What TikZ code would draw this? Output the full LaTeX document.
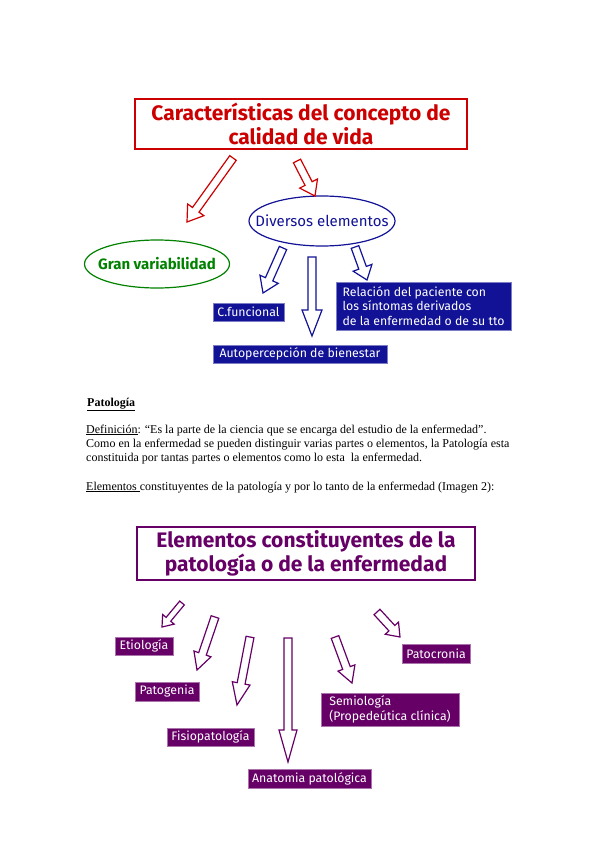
\documentclass[tikz,border=0pt]{standalone}
\usepackage{fontspec}
\setmainfont{Liberation Serif}
\newfontfamily\comicfont{Fira Sans}
\usetikzlibrary{calc,positioning,shapes.geometric}
\definecolor{titlered}{RGB}{204,0,0}
\definecolor{navyblue}{RGB}{18,18,150}
\definecolor{ovalgreen}{RGB}{0,130,0}
\definecolor{plum}{RGB}{102,0,102}
\def\shaftw{4pt}
\def\headw{10pt}
% hollow block arrow: [style] tail, tip, head length
\newcommand{\fatarrow}[4][]{%
  \coordinate (neck) at ($(#3)!#4!(#2)$);
  \draw[line width=1.2pt, #1] ($(#2)!\shaftw!90:(#3)$) -- ($(neck)!\shaftw!90:(#3)$)
    -- ($(neck)!\headw!90:(#3)$) -- (#3) -- ($(neck)!\headw!-90:(#3)$)
    -- ($(neck)!\shaftw!-90:(#3)$) -- ($(#2)!\shaftw!-90:(#3)$) -- cycle;
}
\tikzset{
  titlebox/.style={draw, line width=1.6pt, align=center, inner sep=0pt,
    font=\comicfont\bfseries\fontsize{21}{24}\selectfont},
  oval/.style={ellipse, draw, line width=1.2pt, inner ysep=0pt,
    font=\comicfont\fontsize{15}{17}\selectfont},
  labelbox/.style={fill=#1, draw=#1!55, line width=0.6pt, text=white, align=left,
    inner xsep=3pt, inner ysep=0pt, font=\comicfont\fontsize{12.3}{14.5}\selectfont},
  txt/.style={anchor=base west, inner sep=0pt, font=\fontsize{12}{13.5}\selectfont}
}

\begin{document}
\begin{tikzpicture}[x=1pt,y=-1pt]
    \fill[white] (0,0) rectangle (599,848);
    \useasboundingbox (0,0) rectangle (599,848);

    % calidad de vida
    \node (calidad) [titlebox,draw=titlered,text=titlered,minimum width=332,minimum height=50] at (301,124)
    {Características del concepto de\\calidad de vida};
    \node (diversos) [oval,draw=navyblue,text=navyblue,inner xsep=-17pt,minimum width=146,minimum height=50] at (322,221)
    {Diversos elementos};
    \node (gran) [oval,draw=ovalgreen,text=ovalgreen,font=\comicfont\bfseries\fontsize{15}{17}\selectfont,
      inner xsep=-9pt,minimum width=145,minimum height=48] at (157,264) {Gran variabilidad};
    \node (cfunc) [labelbox=navyblue,minimum width=71,minimum height=18] at (248.5,312) {C.funcional};
    \node (autoperc) [labelbox=navyblue,minimum width=174,minimum height=18] at (300,354)
    {Autopercepción de bienestar};
    \node (relacion) [labelbox=navyblue,minimum width=175,minimum height=48] at (423.5,306)
    {Relación del paciente con\\los síntomas derivados\\de la enfermedad o de su tto};

    \coordinate (r1a) at (233,158); \coordinate (r1b) at (187,222);
    \coordinate (r2a) at (297,161); \coordinate (r2b) at (315,196);
    \fatarrow[titlered]{r1a}{r1b}{15pt}
    \fatarrow[titlered]{r2a}{r2b}{14pt}

    \coordinate (b1a) at (283,248); \coordinate (b1b) at (263,293);
    \coordinate (b2a) at (312,257); \coordinate (b2b) at (312,336);
    \coordinate (b3a) at (355,247); \coordinate (b3b) at (367,280);
    \fatarrow[navyblue]{b1a}{b1b}{15pt}
    \fatarrow[navyblue]{b2a}{b2b}{26pt}
    \fatarrow[navyblue]{b3a}{b3b}{13pt}

    % texto
    \node (pat) [txt,font=\bfseries\fontsize{12}{13.5}\selectfont] at (84,406) {\ \underline{Patología}};
    \node (def) [txt] at (86,433) {\underline{Definición}: “Es la parte de la ciencia que se encarga del estudio de la enfermedad”.};
    \node (como) [txt] at (86,447) {Como en la enfermedad se pueden distinguir varias partes o elementos, la Patología esta};
    \node (const) [txt] at (86,461) {constituida por tantas partes o elementos como lo esta\ \ la enfermedad.};
    \node (elem) [txt] at (86,490) {\underline{Elementos\ }constituyentes de la patología y por lo tanto de la enfermedad (Imagen 2):};

    % elementos de la patologia
    \node (elementos) [titlebox,draw=plum,text=plum,minimum width=338,minimum height=53] at (306,553.5)
    {Elementos constituyentes de la\\patología o de la enfermedad};
    \node (etiologia) [labelbox=plum,minimum width=58,minimum height=18] at (144,646) {Etiología};
    \node (patocronia) [labelbox=plum,minimum width=68,minimum height=19] at (436,653.5) {Patocronia};
    \node (patogenia) [labelbox=plum,minimum width=64,minimum height=19] at (167,691.5) {Patogenia};
    \node (fisio) [labelbox=plum,minimum width=87,minimum height=18] at (210.5,737) {Fisiopatología};
    \node (semio) [labelbox=plum,minimum width=138,minimum height=33] at (390,709.5)
    {Semiología\\(Propedeútica clínica)};
    \node (anatomia) [labelbox=plum,minimum width=123,minimum height=19] at (309.5,778.5) {Anatomia patológica};

    \coordinate (p1a) at (182,603); \coordinate (p1b) at (162,627);
    \coordinate (p2a) at (215,617); \coordinate (p2b) at (197,670);
    \coordinate (p3a) at (250,637); \coordinate (p3b) at (237,705);
    \coordinate (p4a) at (288,638); \coordinate (p4b) at (288,762);
    \coordinate (p5a) at (335,637); \coordinate (p5b) at (352,683);
    \coordinate (p6a) at (377,612); \coordinate (p6b) at (400,637);
    \def\shaftw{3pt}\def\headw{7.5pt}
    \fatarrow[plum]{p1a}{p1b}{10pt}
    \def\shaftw{4pt}\def\headw{9pt}
    \fatarrow[plum]{p2a}{p2b}{17pt}
    \fatarrow[plum]{p3a}{p3b}{22pt}
    \fatarrow[plum]{p4a}{p4b}{32pt}
    \fatarrow[plum]{p5a}{p5b}{16pt}
    \fatarrow[plum]{p6a}{p6b}{12pt}
\end{tikzpicture}
\end{document}
